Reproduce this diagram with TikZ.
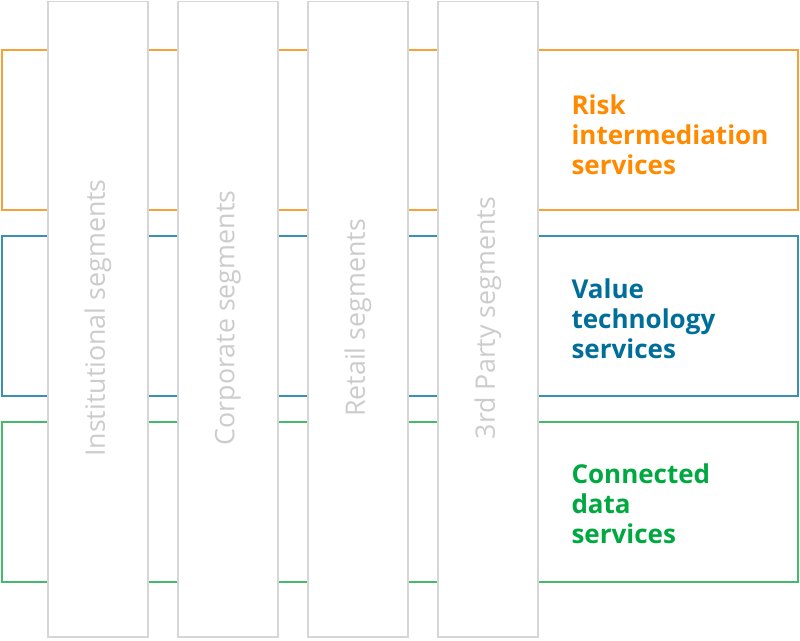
\documentclass[tikz,border=0pt]{standalone}
\usepackage{fontspec}
\setmainfont{Open Sans}
\definecolor{orl}{HTML}{F5A338}
\definecolor{ort}{HTML}{FF8A00}
\definecolor{bll}{HTML}{3A8FB2}
\definecolor{blt}{HTML}{006E9A}
\definecolor{grl}{HTML}{45BA6B}
\definecolor{grt}{HTML}{00A840}
\definecolor{colb}{HTML}{D6D6D6}
\definecolor{colt}{HTML}{CCCCCC}
\begin{document}
\begin{tikzpicture}[x=1pt,y=-1pt,
  band/.style={line width=1.5pt},
  seg/.style={draw=colb,fill=white,line width=1.8pt},
  seglabel/.style={rotate=90,text=colt,font=\fontsize{26.8}{30}\selectfont},
  svc/.style={anchor=west,align=left,font=\fontsize{26}{30}\selectfont\bfseries}]
\useasboundingbox (0,0) rectangle (800,640);
\draw[band,draw=orl] (2,50) rectangle (798,210);
\draw[band,draw=bll] (2,236) rectangle (798,396);
\draw[band,draw=grl] (2,422) rectangle (798,582);
\foreach \x/\n in {48/a,178/b,308/c,438/d}{
  \draw[seg] (\x,1.5) rectangle (\x+100,637);
}
\node[seglabel] (la) at (98,318) {Institutional segments};
\node[seglabel] (lb) at (228,318) {Corporate segments};
\node[seglabel] (lc) at (358,318) {Retail segments};
\node[seglabel] (ld) at (488,318) {3rd Party segments};
\node[svc,text=ort] (risk) at (568,135) {Risk\\intermediation\\services};
\node[svc,text=blt] (val) at (568,319) {Value\\technology\\services};
\node[svc,text=grt] (con) at (568,504) {Connected\\data\\services};
\end{tikzpicture}
\end{document}
